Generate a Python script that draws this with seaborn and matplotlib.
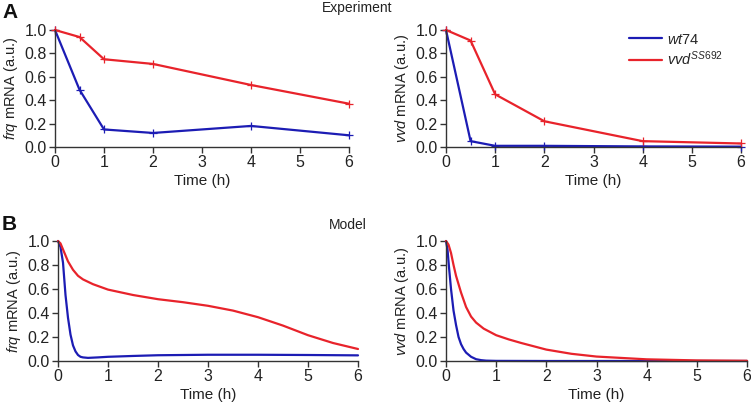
import matplotlib
matplotlib.use("Agg")
import matplotlib.pyplot as plt
import seaborn as sns
import pandas as pd
from matplotlib.lines import Line2D

# ---------------- data ----------------
exp_time = [0, 0.5, 1, 2, 4, 6]
exp_frq_wt = [1.0, 0.49, 0.15, 0.12, 0.18, 0.10]
exp_frq_vvd = [1.0, 0.94, 0.75, 0.71, 0.53, 0.37]
exp_vvd_wt = [1.0, 0.05, 0.01, 0.01, 0.005, 0.003]
exp_vvd_vvd = [1.0, 0.91, 0.45, 0.22, 0.05, 0.03]

mod_frq_wt_t = [0, 0.05, 0.1, 0.15, 0.2, 0.25, 0.3, 0.35, 0.4, 0.45, 0.5, 0.6, 0.8, 1.0, 1.5, 2, 3, 4, 5, 6]
mod_frq_wt = [1.0, 0.95, 0.82, 0.55, 0.36, 0.22, 0.13, 0.08, 0.05, 0.035, 0.03, 0.026, 0.03, 0.035, 0.042, 0.048, 0.052, 0.052, 0.05, 0.047]

mod_frq_vvd_t = [0, 0.05, 0.1, 0.2, 0.3, 0.4, 0.5, 0.7, 1.0, 1.5, 2, 2.5, 3, 3.5, 4, 4.5, 5, 5.5, 6]
mod_frq_vvd = [1.0, 0.98, 0.93, 0.83, 0.76, 0.71, 0.68, 0.64, 0.595, 0.55, 0.515, 0.49, 0.46, 0.42, 0.365, 0.295, 0.215, 0.15, 0.10]

mod_vvd_wt_t = [0, 0.03, 0.06, 0.1, 0.15, 0.2, 0.25, 0.3, 0.35, 0.4, 0.5, 0.6, 0.7, 0.8, 1.0, 2, 3, 4, 5, 6]
mod_vvd_wt = [1.0, 0.93, 0.78, 0.6, 0.42, 0.3, 0.2, 0.14, 0.1, 0.07, 0.035, 0.015, 0.007, 0.003, 0.001, 0.0, 0.0, 0.0, 0.0, 0.0]

mod_vvd_vvd_t = [0, 0.05, 0.1, 0.15, 0.2, 0.3, 0.4, 0.5, 0.6, 0.75, 1.0, 1.25, 1.5, 2, 2.5, 3, 4, 5, 6]
mod_vvd_vvd = [1.0, 0.97, 0.9, 0.8, 0.71, 0.57, 0.45, 0.37, 0.32, 0.27, 0.215, 0.18, 0.15, 0.095, 0.06, 0.037, 0.014, 0.005, 0.002]

strains = ["wt74", "vvdSS692"]
legend_labels = [r"$\mathit{wt74}$", r"$\mathit{vvd}^{\mathit{SS692}}$"]
xticks = [0, 1, 2, 3, 4, 5, 6]
yticks = [0.0, 0.2, 0.4, 0.6, 0.8, 1.0]

BLUE = "#1c1cb4"
RED = "#e8232b"
palette = {"wt74": BLUE, "vvdSS692": RED}

sns.set_theme(style="ticks")
plt.rcParams["font.family"] = ["Liberation Sans", "DejaVu Sans"]
plt.rcParams["mathtext.fontset"] = "custom"
plt.rcParams["mathtext.rm"] = "Liberation Sans"
plt.rcParams["mathtext.it"] = "Liberation Sans:italic"
plt.rcParams["mathtext.bf"] = "Liberation Sans:bold"


def frame(t1, y1, t2, y2):
    return pd.DataFrame({
        "t": list(t1) + list(t2),
        "y": list(y1) + list(y2),
        "strain": [strains[0]] * len(t1) + [strains[1]] * len(t2),
    })


fig = plt.figure(figsize=(7.51, 4.07), dpi=100)
W, H = 751, 407


def add_ax(x0, x1, ytop, ybot):
    return fig.add_axes([x0 / W, 1 - ybot / H, (x1 - x0) / W, (ybot - ytop) / H])


axA1 = add_ax(55, 349, 30, 147)
axA2 = add_ax(446, 741, 30, 147)
axB1 = add_ax(58, 358, 241, 361)
axB2 = add_ax(446, 747, 241, 361)

dfA1 = frame(exp_time, exp_frq_wt, exp_time, exp_frq_vvd)
dfA2 = frame(exp_time, exp_vvd_wt, exp_time, exp_vvd_vvd)
dfB1 = frame(mod_frq_wt_t, mod_frq_wt, mod_frq_vvd_t, mod_frq_vvd)
dfB2 = frame(mod_vvd_wt_t, mod_vvd_wt, mod_vvd_vvd_t, mod_vvd_vvd)

for ax, df, marker in [(axA1, dfA1, True), (axA2, dfA2, True), (axB1, dfB1, False), (axB2, dfB2, False)]:
    kw = dict(marker="+", markersize=6, markeredgewidth=0.9) if marker else {}
    sns.lineplot(data=df, x="t", y="y", hue="strain", palette=palette, ax=ax,
                 linewidth=1.6, legend=False, sort=False, **kw)
    for line in ax.lines:
        line.set_markeredgecolor(line.get_color())
        line.set_clip_on(False)

ylabels = {axA1: r"$\mathit{frq}$ mRNA (a.u.)", axA2: r"$\mathit{vvd}$ mRNA (a.u.)",
           axB1: r"$\mathit{frq}$ mRNA (a.u.)", axB2: r"$\mathit{vvd}$ mRNA (a.u.)"}

for ax in [axA1, axA2, axB1, axB2]:
    ax.set_xlim(0, 6)
    ax.set_ylim(0, 1.0)
    ax.set_xticks(xticks)
    ax.set_xticklabels([str(v) for v in xticks])
    ax.set_yticks(yticks)
    ax.set_yticklabels([f"{v:.1f}" for v in yticks])
    for s in ["top", "right"]:
        ax.spines[s].set_visible(False)
    for s in ["left", "bottom"]:
        ax.spines[s].set_color("#333333")
        ax.spines[s].set_linewidth(1.0)
    ax.tick_params(axis="both", direction="out", length=4, width=1.0, color="#333333",
                   labelsize=11.5, labelcolor="#222222", pad=2)
    ax.set_xlabel("Time (h)", fontsize=11, color="#222222", labelpad=3)
    ax.set_ylabel(ylabels[ax], fontsize=10.5, color="#222222", labelpad=3)

# legend
handles = [Line2D([], [], color=BLUE, lw=1.6), Line2D([], [], color=RED, lw=1.6)]
axA2.legend(handles, legend_labels,
            loc="upper left", bbox_to_anchor=(0.575, 1.09), frameon=False,
            fontsize=10.5, handlelength=2.3, handletextpad=0.35, labelspacing=0.2)

fig.text(357 / W, 1 - 8 / H, "Experiment", ha="center", va="center", fontsize=10, color="#222222")
fig.text(367 / W, 1 - 225 / H, "Model", ha="right", va="center", fontsize=10, color="#222222")
fig.text(2 / W, 1 - 13 / H, "A", ha="left", va="center", fontsize=15, fontweight="bold", color="#111111")
fig.text(2 / W, 1 - 225 / H, "B", ha="left", va="center", fontsize=15, fontweight="bold", color="#111111")

fig.savefig("out.png", dpi=100)
